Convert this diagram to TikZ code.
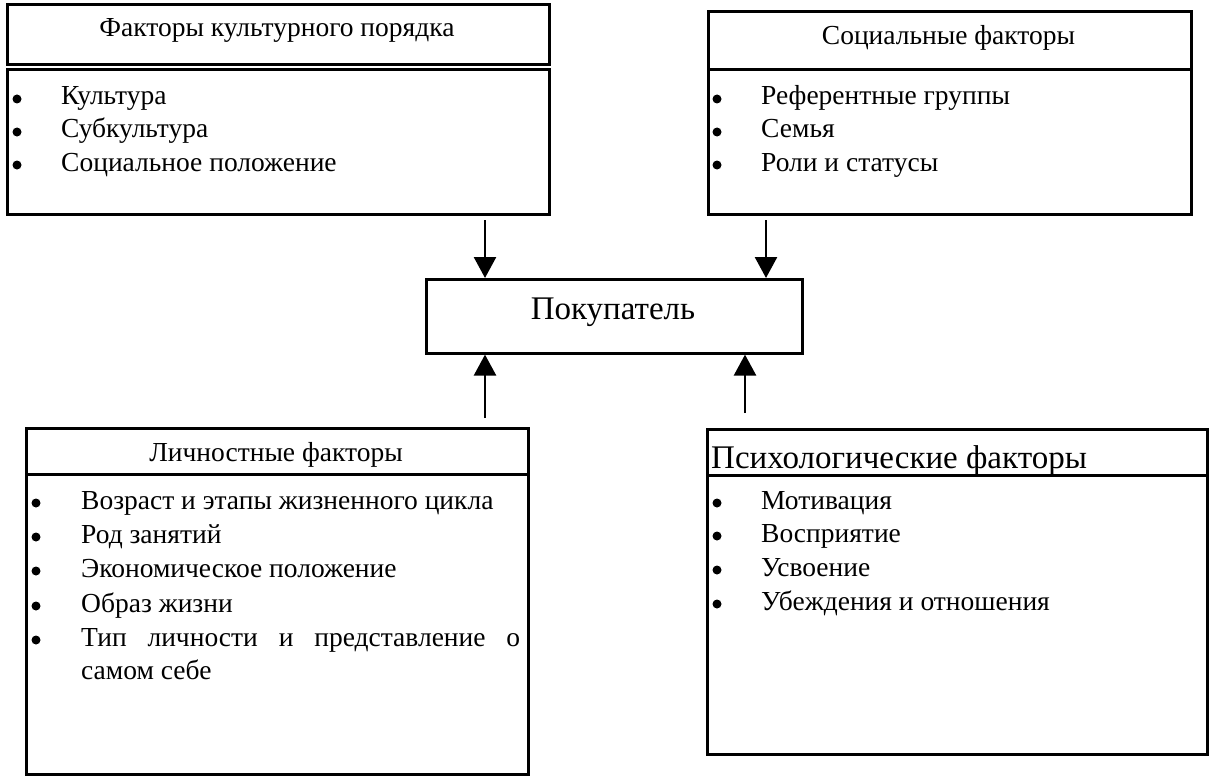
\documentclass[tikz,border=0pt]{standalone}
\usepackage{fontspec}
\setmainfont{Liberation Serif}
\usetikzlibrary{arrows.meta}
\begin{document}
\begin{tikzpicture}[x=1pt,y=-1pt,
 box/.style={draw,line width=2.6pt,inner sep=0pt,anchor=north west},
 txt/.style={inner sep=0pt,anchor=base west,font=\fontsize{27.5}{33}\selectfont},
 ttl/.style={inner sep=0pt,anchor=base,font=\fontsize{27.5}{33}\selectfont},
 big/.style={inner sep=0pt,font=\fontsize{33}{38}\selectfont},
 dot/.style={fill,circle,inner sep=0pt,minimum size=9pt},
 arr/.style={line width=2.6pt,-{Triangle[length=21pt,width=22pt]}}]
\useasboundingbox[fill=white] (0,0) rectangle (1209,781);

% boxes
\node[box,minimum width=542pt,minimum height=60pt] (cultH) at (6,3) {};
\node[box,minimum width=542pt,minimum height=145pt] (cultB) at (6,68) {};
\node[box,minimum width=483pt,minimum height=58pt] (socH) at (707,10) {};
\node[box,minimum width=483pt,minimum height=145pt] (socB) at (707,68) {};
\node[box,minimum width=376pt,minimum height=74pt] (buyer) at (425,278) {};
\node[box,minimum width=502pt,minimum height=46pt] (persH) at (25,427) {};
\node[box,minimum width=502pt,minimum height=300pt] (persB) at (25,473) {};
\node[box,minimum width=500pt,minimum height=46pt] (psyH) at (706,428) {};
\node[box,minimum width=500pt,minimum height=279pt] (psyB) at (706,474) {};

% titles
\node[ttl] (tcult) at (277,37) {Факторы культурного порядка};
\node[ttl] (tsoc) at (948.5,45) {Социальные факторы};
\node[big,anchor=base] (tbuyer) at (613,319) {Покупатель};
\node[ttl] (tpers) at (276,461) {Личностные факторы};
\node[big,anchor=base west] (tpsy) at (711,468) {Психологические факторы};

% culture list
\node[dot] (d11) at (17,99) {};
\node[dot] (d12) at (17,132) {};
\node[dot] (d13) at (17,165) {};
\node[txt] (c1) at (61,105) {Культура};
\node[txt] (c2) at (61,138) {Субкультура};
\node[txt] (c3) at (61,171) {Социальное положение};

% social list
\node[dot] (d21) at (717,99) {};
\node[dot] (d22) at (717,132) {};
\node[dot] (d23) at (717,165) {};
\node[txt] (s1) at (761,105) {Референтные группы};
\node[txt] (s2) at (761,138) {Семья};
\node[txt] (s3) at (761,171) {Роли и статусы};

% personal list
\node[dot] (d31) at (36,503) {};
\node[dot] (d32) at (36,537) {};
\node[dot] (d33) at (36,571) {};
\node[dot] (d34) at (36,606) {};
\node[dot] (d35) at (36,640) {};
\node[txt] (p1) at (81,509) {Возраст и этапы жизненного цикла};
\node[txt] (p2) at (81,543) {Род занятий};
\node[txt] (p3) at (81,577) {Экономическое положение};
\node[txt] (p4) at (81,612) {Образ жизни};
\node[txt] (p5) at (81,646) {\makebox[439pt][s]{Тип\hfill личности\hfill и\hfill представление\hfill о}};
\node[txt] (p6) at (81,679) {самом себе};

% psychological list
\node[dot] (d41) at (717,503) {};
\node[dot] (d42) at (717,536) {};
\node[dot] (d43) at (717,570) {};
\node[dot] (d44) at (717,604) {};
\node[txt] (q1) at (761,509) {Мотивация};
\node[txt] (q2) at (761,542) {Восприятие};
\node[txt] (q3) at (761,576) {Усвоение};
\node[txt] (q4) at (761,610) {Убеждения и отношения};

% arrows
\coordinate (a1) at (485,220);
\coordinate (a2) at (766,220);
\coordinate (a3) at (485,418);
\coordinate (a4) at (745,413);
\draw[arr] (a1) -- (a1 |- buyer.north);
\draw[arr] (a2) -- (a2 |- buyer.north);
\draw[arr] (a3) -- (a3 |- buyer.south);
\draw[arr] (a4) -- (a4 |- buyer.south);
\end{tikzpicture}
\end{document}
